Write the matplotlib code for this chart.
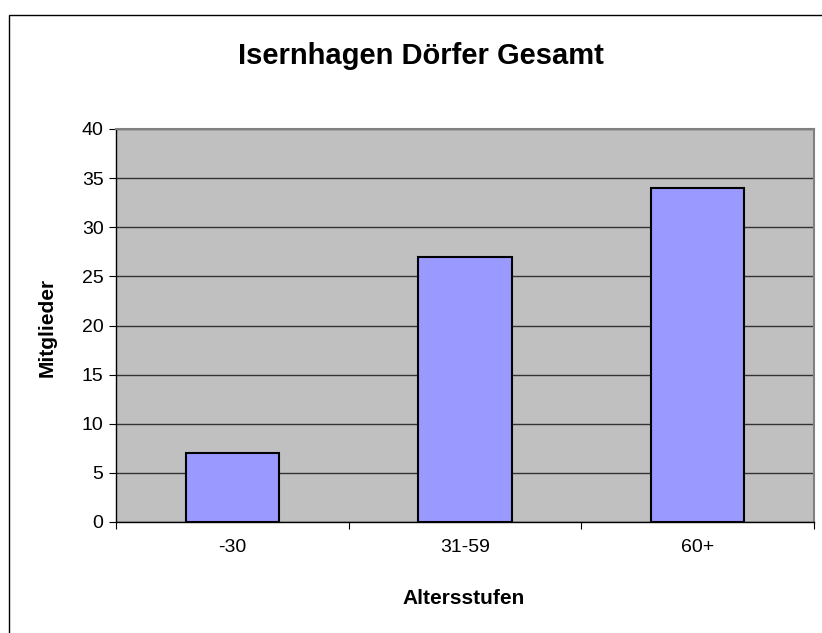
"""Bar chart: Isernhagen Dörfer Gesamt (Excel-style)."""

import matplotlib
matplotlib.use("Agg")
import matplotlib.pyplot as plt
from matplotlib.patches import Rectangle

# ---------------------------------------------------------------------
# Data
# ---------------------------------------------------------------------

CATEGORIES = ["-30", "31-59", "60+"]
MEMBERS = [7, 27, 34]
Y_TICKS = [0, 5, 10, 15, 20, 25, 30, 35, 40]

W, H = 822, 633

plt.rcParams["font.family"] = ["Liberation Sans", "DejaVu Sans"]

fig = plt.figure(figsize=(W / 100, H / 100), dpi=100)
fig.patch.set_facecolor("white")

# outer chart border (only left/top visible in the crop)
fig.patches.append(Rectangle((9 / W, -0.1), 1.2, 1 - 15 / H + 0.1,
                             transform=fig.transFigure, fill=False,
                             edgecolor="black", linewidth=1.0, clip_on=False))

ax = fig.add_axes([116 / W, 111 / H, 698 / W, 393 / H])
ax.set_facecolor("#C0C0C0")

x = range(len(CATEGORIES))
ax.bar(x, MEMBERS, width=0.4, color="#9999FF", edgecolor="black",
       linewidth=1.5, zorder=3)

ax.set_xlim(-0.5, len(CATEGORIES) - 0.5)
ax.set_ylim(0, 40)
ax.set_yticks(Y_TICKS)
ax.yaxis.grid(True, color="#333333", linewidth=1.0, zorder=1)
ax.set_axisbelow(True)

# category ticks sit on the boundaries
ax.set_xticks([i - 0.5 for i in range(len(CATEGORIES) + 1)])
ax.set_xticklabels([])
ax.set_xticks(list(x), minor=True)
ax.set_xticklabels(CATEGORIES, minor=True, fontsize=14)
ax.tick_params(axis="x", which="minor", length=0, pad=12)
ax.tick_params(axis="x", which="major", length=5, direction="out")
ax.tick_params(axis="y", length=5, direction="out", labelsize=14, pad=4)

for side in ("top", "right"):
    ax.spines[side].set_color("#808080")
    ax.spines[side].set_linewidth(1.5)
for side in ("left", "bottom"):
    ax.spines[side].set_color("black")
    ax.spines[side].set_linewidth(1.0)

fig.text(421 / W, 1 - 56 / H, "Isernhagen Dörfer Gesamt",
         ha="center", va="center", fontsize=21, fontweight="bold")
fig.text(464 / W, 1 - 598 / H, "Altersstufen",
         ha="center", va="center", fontsize=15, fontweight="bold")
fig.text(47 / W, 1 - 327 / H, "Mitglieder", rotation=90,
         ha="center", va="center", fontsize=15, fontweight="bold")

fig.savefig("out.png", dpi=100)
